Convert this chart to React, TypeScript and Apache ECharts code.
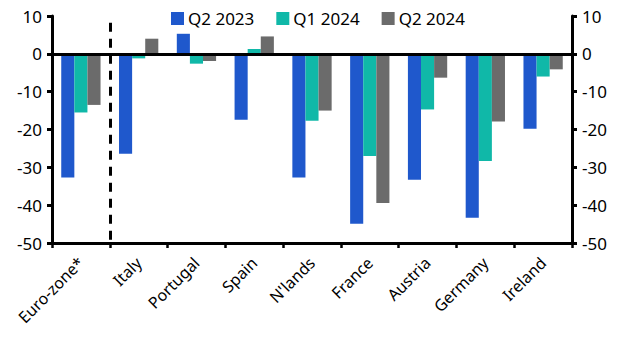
import React, { useEffect, useRef } from "react";
import * as echarts from "echarts";

const categories = ["Euro-zone*", "Italy", "Portugal", "Spain", "N'lands", "France", "Austria", "Germany", "Ireland"];
const q2_2023 = [-32.7, -26.4, 5.3, -17.4, -32.7, -44.9, -33.3, -43.3, -19.8];
const q1_2024 = [-15.5, -1.2, -2.6, 1.3, -17.7, -27.0, -14.7, -28.3, -6.0];
const q2_2024 = [-13.5, 4.0, -1.9, 4.6, -15.0, -39.4, -6.3, -17.9, -4.1];
const seriesNames = ["Q2 2023", "Q1 2024", "Q2 2024"];
const colors = ["#1f58cc", "#10b8a8", "#6b6b6b"];

const FONT = "'Noto Sans', sans-serif";

export default function App() {
  const ref = useRef<HTMLDivElement>(null);
  useEffect(() => {
    if (!ref.current) return;
    const chart = echarts.init(ref.current, undefined, { renderer: "svg" });
    const yAxisCommon = {
      type: "value",
      min: -50,
      max: 10,
      interval: 10,
      splitLine: { show: false },
      axisLine: { show: true, lineStyle: { color: "#000", width: 3 } },
      axisTick: { show: true, length: 5, lineStyle: { color: "#000", width: 3 } },
      axisLabel: { color: "#000", fontSize: 17, fontFamily: FONT, margin: 10 },
    };
    chart.setOption({
      animation: false,
      textStyle: { fontFamily: FONT },
      grid: { left: 52, right: 55, top: 16, bottom: 113, containLabel: false },
      legend: {
        data: seriesNames,
        left: 166,
        top: 5,
        itemWidth: 13,
        itemHeight: 13,
        itemGap: 22,
        icon: "rect",
        textStyle: { color: "#000", fontSize: 17, fontFamily: FONT, padding: [0, 0, 0, -1] },
      },
      xAxis: [
        {
          type: "category",
          data: categories,
          axisLine: { onZero: false, lineStyle: { color: "#000", width: 3 } },
          axisTick: { show: true, length: 5, alignWithLabel: false, lineStyle: { color: "#000", width: 2.5 } },
          axisLabel: { color: "#000", fontSize: 16, fontFamily: FONT, rotate: 45, margin: 17, interval: 0 },
        },
        {
          type: "value",
          min: 0,
          max: 9,
          show: false,
        },
      ],
      yAxis: [
        { ...yAxisCommon, position: "left" },
        { ...yAxisCommon, position: "right" },
      ],
      series: [
        ...[q2_2023, q1_2024, q2_2024].map((d, i) => ({
          name: seriesNames[i],
          type: "bar",
          data: d,
          itemStyle: { color: colors[i] },
          barGap: "0%",
          barCategoryGap: "32%",
          xAxisIndex: 0,
          yAxisIndex: 0,
        })),
        {
          type: "line",
          xAxisIndex: 1,
          yAxisIndex: 0,
          data: [],
          silent: true,
          markLine: {
            symbol: "none",
            silent: true,
            label: { show: false },
            lineStyle: { color: "#000", width: 3 },
            data: [
              [
                { coord: [1, 8.2], lineStyle: { type: [9, 7] } },
                { coord: [1, -50] },
              ],
              [
                { coord: [0, 0], lineStyle: { type: "solid", width: 3 } },
                { coord: [9, 0] },
              ],
            ],
          },
        },
      ],
    });
    return () => chart.dispose();
  }, []);
  return <div ref={ref} style={{ width: 627, height: 356, position: "absolute", left: 0, top: 0 }} />;
}
